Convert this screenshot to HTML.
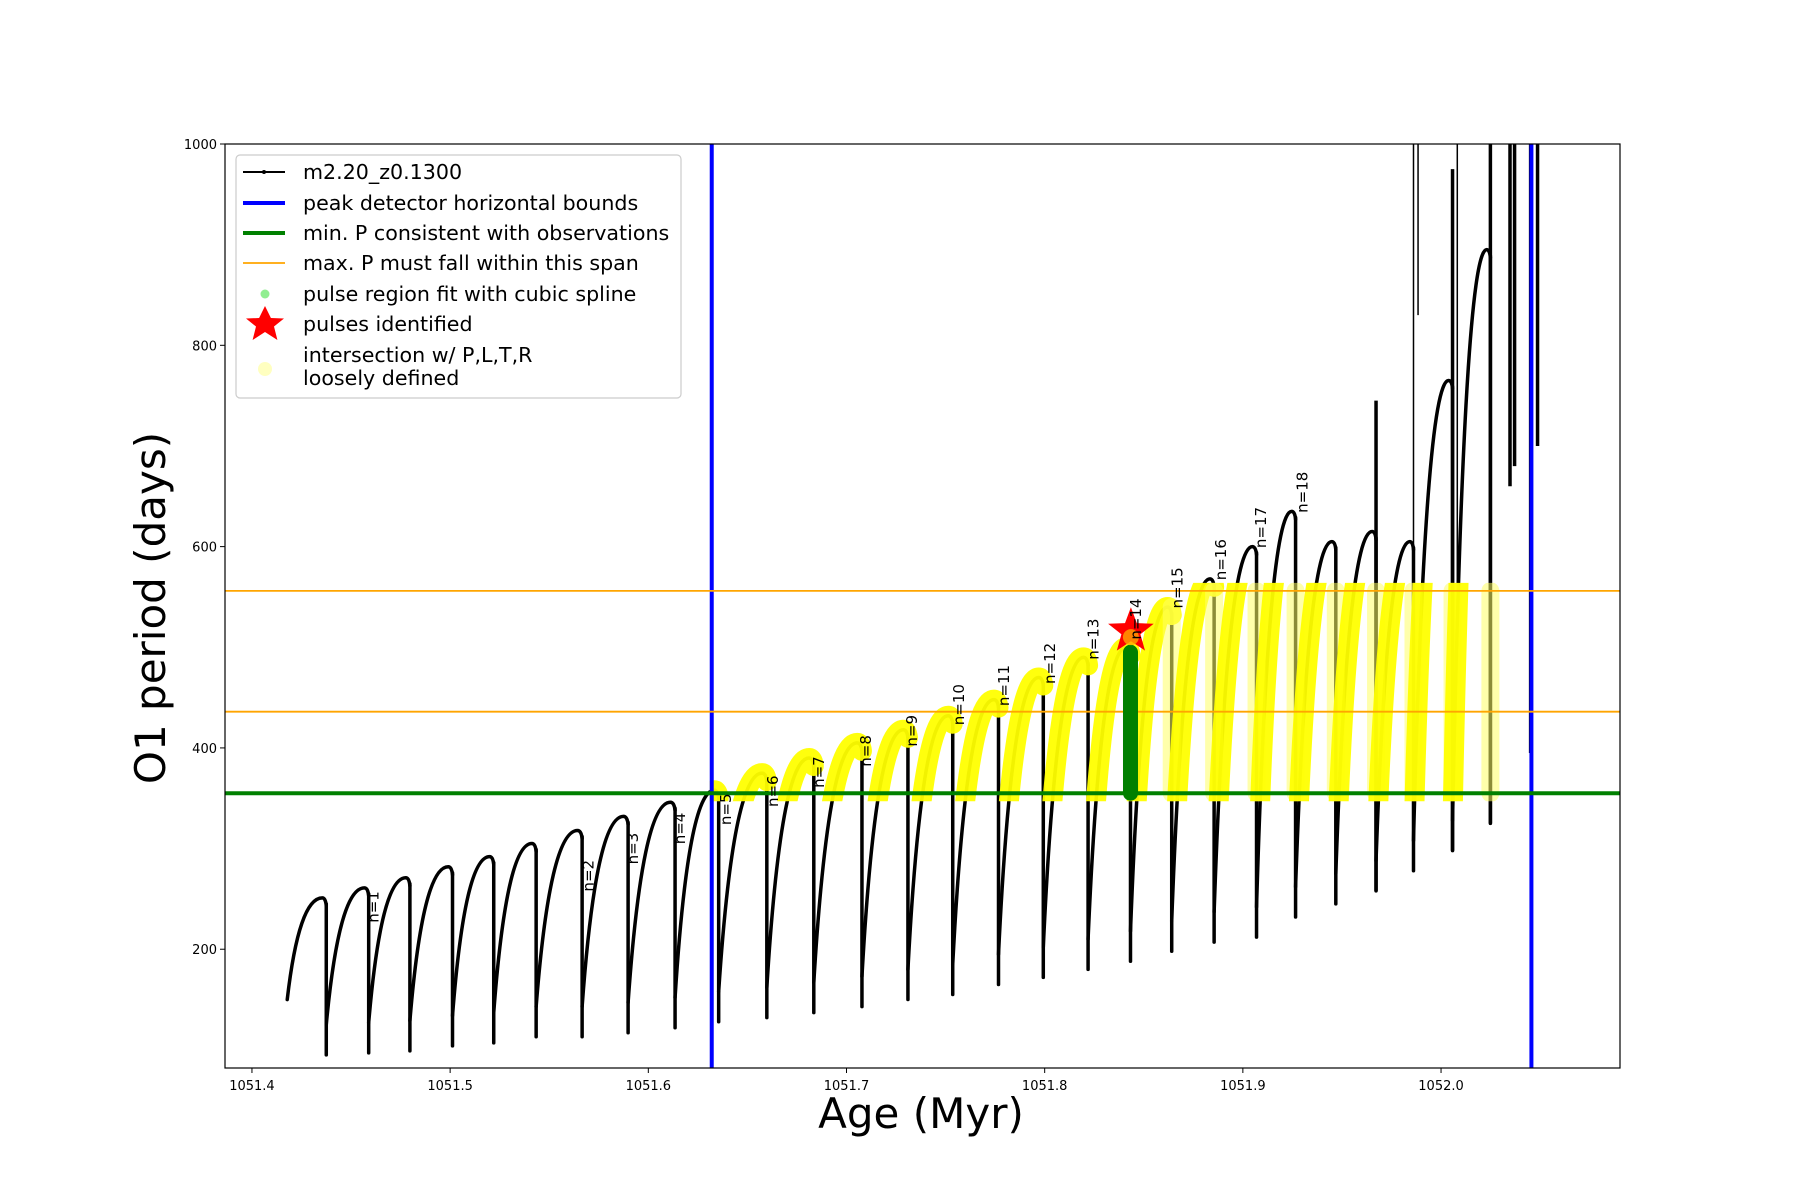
<!DOCTYPE html>
<html><head><meta charset="utf-8"><style>
html,body{margin:0;padding:0;background:#fff}
svg{display:block;font-family:"DejaVu Sans","Liberation Sans",sans-serif}
</style></head><body>
<svg id="chart" width="1800" height="1200" viewBox="0 0 1800 1200" xmlns="http://www.w3.org/2000/svg">
<defs>
<clipPath id="plotclip"><rect x="225" y="144" width="1395" height="924"/></clipPath>
</defs>
<rect x="0" y="0" width="1800" height="1200" fill="#fff"/>
<g id="plot" clip-path="url(#plotclip)"></g>
<g id="axes"></g>
<g id="labels"></g>
<text x="921" y="1128" text-anchor="middle" font-size="42" fill="#000">Age (Myr)</text>
<text x="165" y="608" text-anchor="middle" font-size="42" fill="#000" transform="rotate(-90 165 608)">O1 period (days)</text>
<g font-size="20.6" fill="#000">
<rect x="236" y="155" width="445" height="243" rx="4" fill="#fff" fill-opacity="0.8" stroke="#ccc" stroke-width="1.2"/>
<g><line x1="243" y1="172" x2="285" y2="172" stroke="#000" stroke-width="2"/><circle cx="264" cy="172" r="2" fill="#000"/><text x="303" y="179">m2.20_z0.1300</text></g>
<g><line x1="243" y1="203" x2="285" y2="203" stroke="#0000ff" stroke-width="4"/><text x="303" y="210">peak detector horizontal bounds</text></g>
<g><line x1="243" y1="233" x2="285" y2="233" stroke="#008000" stroke-width="4"/><text x="303" y="240">min. P consistent with observations</text></g>
<g><line x1="243" y1="263" x2="285" y2="263" stroke="#ffa500" stroke-width="1.8"/><text x="303" y="270">max. P must fall within this span</text></g>
<g><circle cx="265" cy="294" r="4.5" fill="#90ee90"/><text x="303" y="301">pulse region fit with cubic spline</text></g>
<g><polygon points="265,306 270.9,318 284,318.5 274,326.5 277.4,340 265,332 252.6,340 256,326.5 246,318.5 259.1,318" fill="#ff0000"/><text x="303" y="331">pulses identified</text></g>
<g><circle cx="265" cy="369" r="7" fill="#ffffc0"/><text x="303" y="362">intersection w/ P,L,T,R</text><text x="303" y="385">loosely defined</text></g>
</g>
</svg>
<script>
// ---- data ----
const dropAges = [1051.4375,1051.4589,1051.4797,1051.5012,1051.5220,1051.5434,1051.5666,1051.5898,1051.6135,1051.6355,1051.6598,1051.6835,1051.7078,1051.7310,1051.7536,1051.7767,1051.7993,1051.8219,1051.8433,1051.8641,1051.8855,1051.9069,1051.9266,1051.9469,1051.9672,1051.9861,1052.0058,1052.0249];
const peakP  = [251,261,271,282,292,305,318,332,346,358,375,390,405,418,432,448,470,490,500,540,568,600,635,605,615,605,765,895];
const dipP   = [95,97,99,104,107,113,113,117,122,128,132,137,143,150,155,165,172,180,188,198,207,212,232,245,258,278,298,325];
const startAge = 1051.4178;
const startP = 150;
const spikeAges = [1051.9861,1051.9884,1052.0082,1052.0249,1052.0348,1052.0371,1052.0452,1052.0487,1051.9672,1052.0058];
const spikeLow  = [278,830,555,325,660,680,395,700,258,298];
const spikeHigh = [1000,1000,1000,1000,1000,1000,1000,1000,745,975];
const yellowStart = 9;
const starAge = 1051.8435, starP = 516;
const greenIdx = 18;
const greenLow = 355, greenHigh = 495;
const minP = 355;
const maxPBand = [436,556];
const blueAges = [1051.632,1052.0456];
const labelNums = [1,2,3,4,5,6,7,8,9,10,11,12,13,14,15,16,17,18];
const labelAges = [1051.4614,1051.5697,1051.5922,1051.6160,1051.6392,1051.6630,1051.6861,1051.7099,1051.7330,1051.7568,1051.7794,1051.8026,1051.8246,1051.8460,1051.8669,1051.8889,1051.9092,1051.9300];
const labelP = [242,273,300,320,339,357,376,397,417,443,462,484,508,528,559,587,619,654];
const xTicks = [1051.4,1051.5,1051.6,1051.7,1051.8,1051.9,1052.0];
const xTickLabels = ["1051.4","1051.5","1051.6","1051.7","1051.8","1051.9","1052.0"];
const yTicks = [200,400,600,800,1000];
const yTickLabels = ["200","400","600","800","1000"];

// ---- axes ----
const X0=225,X1=1620,Y0=1068,Y1=144;
const xmin=1051.3864,xmax=1052.0903,ymin=82,ymax=1000;
const xs=a=>X0+(a-xmin)/(xmax-xmin)*(X1-X0);
const ys=p=>Y0-(p-ymin)/(ymax-ymin)*(Y0-Y1);
const NS="http://www.w3.org/2000/svg";
function mk(tag,attrs,parent){const e=document.createElementNS(NS,tag);for(const k in attrs)e.setAttribute(k,attrs[k]);parent.appendChild(e);return e;}
const plot=document.getElementById('plot'),axes=document.getElementById('axes'),labels=document.getElementById('labels');

function cyclePath(i){
  const x0 = i===0 ? xs(startAge) : xs(dropAges[i-1]);
  const p0 = i===0 ? startP : dipP[i-1]+30;
  const x1 = xs(dropAges[i]);
  const dx = x1-x0;
  const yp = ys(peakP[i]);
  return `M${x0},${ys(p0)} Q${x0+0.3*dx},${yp} ${x1-0.1*dx},${yp} Q${x1-0.02*dx},${yp} ${x1},${yp+8}`;
}

const defs=document.querySelector('defs');
const yc=mk('clipPath',{id:'yclip'},defs);
mk('rect',{x:xs(blueAges[0])-2,y:ys(maxPBand[1])-8,width:X1-xs(blueAges[0]),height:ys(minP)-ys(maxPBand[1])+16},yc);

for(let i=0;i<dropAges.length;i++){
  const c=mk('path',{d:cyclePath(i),fill:'none',stroke:'#000','stroke-width':3.5,'stroke-linecap':'round'},plot);
  
  
  const x=xs(dropAges[i]);
  const d=mk('line',{x1:x,y1:ys(peakP[i])+6,x2:x,y2:ys(dipP[i]),stroke:'#000','stroke-width':3.5,'stroke-linecap':'round'},plot);
  
  
}
for(let i=0;i<spikeAges.length;i++){
  const x=xs(spikeAges[i]);
  const s=mk('line',{x1:x,y1:ys(spikeHigh[i]),x2:x,y2:ys(spikeLow[i]),stroke:'#000','stroke-width':(i<3)?1.5:3.5},plot);
  
  
}

const yg=mk('g',{'clip-path':'url(#yclip)'},plot);
for(let i=yellowStart;i<dropAges.length;i++){
  const late=i>=19;
  const c=mk('path',{d:cyclePath(i),fill:'none',stroke:'#ffff00','stroke-width':20,'stroke-linecap':'round','stroke-opacity':0.95},yg);
  
  
  if(late){
    const x=xs(dropAges[i]);
    const v=mk('line',{x1:x,y1:ys(Math.min(peakP[i],maxPBand[1])),x2:x,y2:ys(minP),stroke:'#ffff66','stroke-width':18,'stroke-opacity':0.55,'stroke-linecap':'round'},yg);
    
    
  }
}

for(const a of blueAges){
  const b=mk('line',{x1:xs(a),y1:Y1,x2:xs(a),y2:Y0,stroke:'#0000ff','stroke-width':4},plot);
  
  
}
const gl=mk('line',{x1:X0,y1:ys(minP),x2:X1,y2:ys(minP),stroke:'#008000','stroke-width':4},plot);


for(const p of maxPBand){
  const o=mk('line',{x1:X0,y1:ys(p),x2:X1,y2:ys(p),stroke:'#ffa500','stroke-width':1.8},plot);
  
  
}
const gx=xs(dropAges[greenIdx]);
const gp=mk('line',{x1:gx,y1:ys(greenHigh),x2:gx,y2:ys(greenLow),stroke:'#008000','stroke-width':15,'stroke-linecap':'round'},plot);


function starPts(cx,cy,R,r){let s=[];for(let k=0;k<10;k++){const ang=-Math.PI/2+k*Math.PI/5;const rr=k%2?r:R;s.push((cx+rr*Math.cos(ang)).toFixed(1)+','+(cy+rr*Math.sin(ang)).toFixed(1));}return s.join(' ');}
const st=mk('polygon',{points:starPts(xs(starAge),ys(starP),24,10),fill:'#ff0000'},plot);


const sd=mk('circle',{cx:xs(starAge),cy:ys(starP)+6,r:8,fill:'#ffa500','fill-opacity':0.8},plot);



for(let i=0;i<labelNums.length;i++){
  const x=xs(labelAges[i]),y=ys(labelP[i]);
  const t=mk('text',{x:x,y:y,transform:`rotate(-90 ${x} ${y})`,'text-anchor':'middle','dominant-baseline':'central','font-size':15,fill:'#000'},labels);
  t.textContent='n='+labelNums[i];
  
  
}

const fr=mk('rect',{x:X0,y:Y1,width:X1-X0,height:Y0-Y1,fill:'none',stroke:'#000','stroke-width':1.2},axes);


for(let i=0;i<xTicks.length;i++){
  const x=xs(xTicks[i]);
  mk('line',{x1:x,y1:Y0,x2:x,y2:Y0+5,stroke:'#000','stroke-width':1},axes);
  const t=mk('text',{x:x,y:Y0+22,'text-anchor':'middle','font-size':13,fill:'#000'},axes);
  t.textContent=xTickLabels[i];
  
  
}
for(let i=0;i<yTicks.length;i++){
  const y=ys(yTicks[i]);
  mk('line',{x1:X0-5,y1:y,x2:X0,y2:y,stroke:'#000','stroke-width':1},axes);
  const t=mk('text',{x:X0-8,y:y+5,'text-anchor':'end','font-size':13,fill:'#000'},axes);
  t.textContent=yTickLabels[i];
  
  
}
</script>
</body></html>
